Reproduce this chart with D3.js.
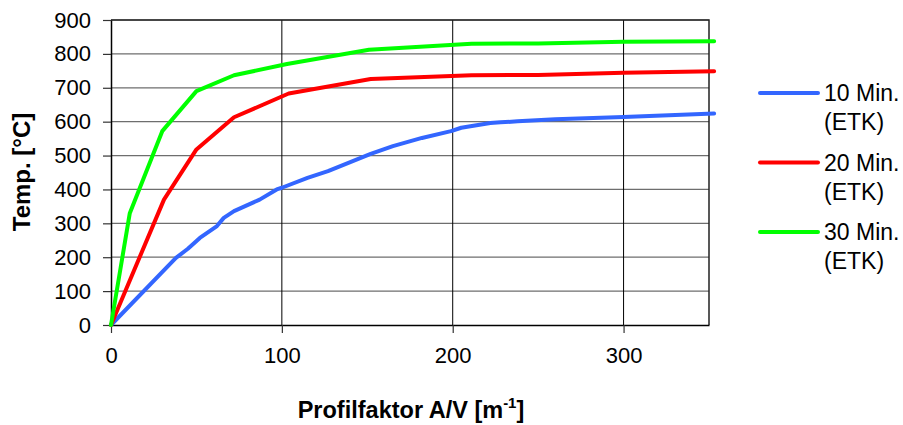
<!DOCTYPE html>
<html>
<head>
<meta charset="utf-8">
<script src="https://cdn.jsdelivr.net/npm/d3@7"></script>
<style>
  body { margin: 0; background: #fff; }
  svg { font-family: "Liberation Sans", Arial, sans-serif; }
</style>
</head>
<body>
<div id="chart"></div>
<script>
// Data
const xTicks = [0, 100, 200, 300];
const yTicks = [0, 100, 200, 300, 400, 500, 600, 700, 800, 900];

const series10 = [
    [0, 0], [38, 198], [45, 225], [52, 257], [62, 292], [66, 316], [72, 336],
    [87, 370], [97, 400], [100, 405], [115, 434], [127, 454], [152, 505],
    [165, 528], [182, 552], [199, 572], [205, 582], [222, 596], [228, 598],
    [238, 601], [260, 607], [300, 614], [353, 624]
];
const series20 = [
    [0, 0], [31, 370], [50, 518], [72, 613], [104, 683], [152, 726],
    [211, 737], [250, 738], [300, 744], [353, 749]
];
const series30 = [
    [0, 0], [11, 330], [30, 572], [50, 690], [72, 737], [103, 770],
    [151, 812], [211, 830], [250, 831], [300, 836], [353, 837]
];

const seriesNames = ["10 Min.", "20 Min.", "30 Min."];
const seriesColors = ["#3366ff", "#ff0000", "#00ff00"];
const allSeries = [series10, series20, series30];

const width = 903, height = 425;
const margin = { top: 20, right: 194, bottom: 100, left: 111 };
const innerW = width - margin.left - margin.right,
    innerH = height - margin.top - margin.bottom;

const svg = d3.select("#chart").append("svg")
    .attr("width", width)
    .attr("height", height);

const g = svg.append("g")
    .attr("transform", `translate(${margin.left},${margin.top})`);

const x = d3.scaleLinear().domain([0, 350]).range([0, innerW]);
const y = d3.scaleLinear().domain([0, 900]).range([innerH, 0]);

// Horizontal grid
g.append("g")
    .selectAll("line")
    .data(yTicks.filter(d => d > 0))
    .enter()
    .append("line")
    .attr("x1", 0)
    .attr("x2", innerW)
    .attr("y1", d => y(d))
    .attr("y2", d => y(d))
    .attr("stroke", "#6e6e6e")
    .attr("stroke-width", 1.2);

// Vertical grid
g.append("g")
    .selectAll("line")
    .data(xTicks.filter(d => d > 0))
    .enter()
    .append("line")
    .attr("x1", d => x(d))
    .attr("x2", d => x(d))
    .attr("y1", 0)
    .attr("y2", innerH)
    .attr("stroke", "#000")
    .attr("stroke-width", 1);

// Top and right border
g.append("path")
    .attr("d", `M0,0H${innerW}V${innerH}`)
    .attr("fill", "none")
    .attr("stroke", "#222")
    .attr("stroke-width", 1.5);

// Axes
const xAxis = g.append("g")
    .attr("transform", `translate(0,${innerH})`)
    .call(d3.axisBottom(x).tickValues(xTicks).tickSize(8).tickPadding(14).tickSizeOuter(0));

const yAxis = g.append("g")
    .call(d3.axisLeft(y).tickValues(yTicks).tickSize(8).tickPadding(12).tickSizeOuter(0));

[xAxis, yAxis].forEach(a => {
    a.select(".domain").attr("stroke", "#000").attr("stroke-width", 1.5);
    a.selectAll(".tick line").attr("stroke", "#333").attr("stroke-width", 1.2);
    a.selectAll(".tick text")
        .style("font-family", "'Liberation Sans', Arial, sans-serif")
        .style("font-size", "22px")
        .attr("fill", "#000");
});

// Lines
const line = d3.line()
    .x(d => x(d[0]))
    .y(d => y(d[1]));

g.selectAll(".series")
    .data(allSeries)
    .enter()
    .append("path")
    .attr("class", "series")
    .attr("d", d => line(d))
    .attr("fill", "none")
    .attr("stroke", (d, i) => seriesColors[i])
    .attr("stroke-width", 4)
    .attr("stroke-linejoin", "round")
    .attr("stroke-linecap", "round");

// Axis titles
svg.append("text")
    .attr("x", 411)
    .attr("y", 418)
    .attr("text-anchor", "middle")
    .style("font-size", "23.5px")
    .style("font-weight", "bold")
    .html('Profilfaktor A/V [m<tspan dy="-10" font-size="15px">-1</tspan><tspan dy="10">]</tspan>');

svg.append("text")
    .attr("transform", "translate(30,172) rotate(-90)")
    .attr("text-anchor", "middle")
    .style("font-size", "24px")
    .style("font-weight", "bold")
    .text("Temp. [°C]");

// Legend
const legend = svg.append("g")
    .attr("transform", "translate(760,93)");

const items = legend.selectAll("g")
    .data(seriesNames)
    .enter()
    .append("g")
    .attr("transform", (d, i) => `translate(0,${i * 69.5})`);

items.append("line")
    .attr("x1", 0)
    .attr("x2", 58)
    .attr("stroke", (d, i) => seriesColors[i])
    .attr("stroke-width", 4)
    .attr("stroke-linecap", "round");

items.append("text")
    .attr("x", 64)
    .attr("y", 8)
    .style("font-size", "23px")
    .text(d => d);

items.append("text")
    .attr("x", 64)
    .attr("y", 37)
    .style("font-size", "23px")
    .text("(ETK)");
</script>
</body>
</html>
